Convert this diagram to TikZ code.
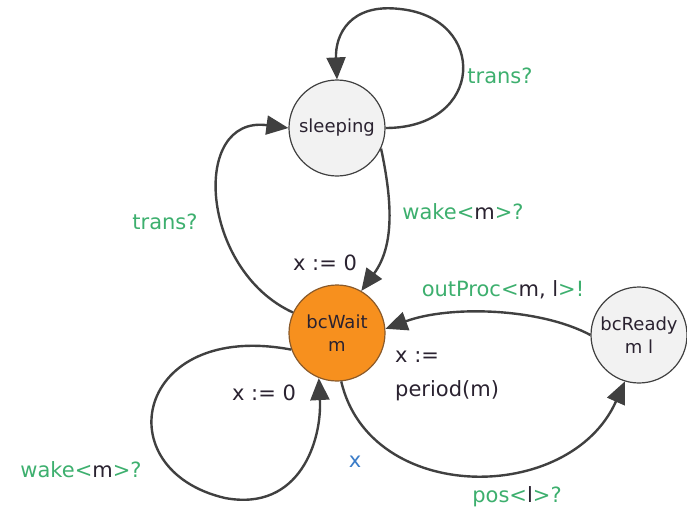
\documentclass[tikz,border=0pt]{standalone}
\usepackage{fontspec}
\setmainfont{DejaVu Sans}
\usetikzlibrary{arrows.meta}
\definecolor{edgecol}{HTML}{404040}
\definecolor{lblgreen}{HTML}{3DAF6E}
\definecolor{lbldark}{HTML}{2A2230}
\definecolor{lblblue}{HTML}{3A7CC8}
\definecolor{orangefill}{HTML}{F7901E}
\definecolor{orangeborder}{HTML}{8A5A2A}
\definecolor{greyfill}{HTML}{F2F2F2}
\tikzset{
  state/.style={circle, draw=edgecol, line width=1.2pt, minimum size=96pt, inner sep=0pt,
    align=center, font=\fontsize{18}{23}\selectfont, text=lbldark},
  idle/.style={state, fill=greyfill},
  active/.style={state, fill=orangefill, draw=orangeborder},
  conn/.style={draw=edgecol, line width=2.4pt, -{Triangle[length=22pt,width=19pt]}},
  glbl/.style={font=\fontsize{21}{26}\selectfont, text=lblgreen, inner sep=0pt},
  klbl/.style={font=\fontsize{21}{26}\selectfont, text=lbldark, inner sep=0pt},
  blbl/.style={font=\fontsize{21}{26}\selectfont, text=lblblue, inner sep=0pt}
}
\newcommand{\dk}[1]{\textcolor{lbldark}{#1}}
\begin{document}
\begin{tikzpicture}[x=1pt,y=-1pt]
\useasboundingbox (0,0) rectangle (687,520);
% states
\node[idle] (sl) at (337,128) {sleeping};
\node[active] (bw) at (337,333) {bcWait\\m};
\node[idle] (br) at (639,335) {bcReady\\m l};
% transitions
\draw[conn] (sl.0) .. controls (485,128) and (488,18) .. (400,9) .. controls (350,3) and (335,35) .. (sl.90);
\draw[conn] (sl.-25) .. controls (392,200) and (395,245) .. (bw.60);
\draw[conn] (bw.155) .. controls (200,270) and (190,115) .. (sl.180);
\draw[conn] (bw.200) .. controls (135,320) and (105,470) .. (225,498) .. controls (300,512) and (322,440) .. (bw.248);
\draw[conn] (br.180) .. controls (540,308) and (450,305) .. (bw.5);
\draw[conn] (bw.-85) .. controls (370,505) and (570,505) .. (br.253);
% labels
\node[glbl] (l1) at (500,76) {trans?};
\node[glbl] (l2) at (463,212) {wake<\dk{m}>?};
\node[klbl] (l3) at (325,263) {x := 0};
\node[glbl] (l4) at (165,222) {trans?};
\node[glbl] (l5) at (503,290) {outProc<\dk{m, l}>!};
\node[klbl, anchor=west] (l6) at (395,357) {x :=};
\node[klbl, anchor=west] (l7) at (395,391) {period(m)};
\node[klbl] (l8) at (264,393) {x := 0};
\node[glbl] (l9) at (81,470) {wake<\dk{m}>?};
\node[blbl] (l10) at (355,462) {x};
\node[glbl] (l11) at (517,497) {pos<\dk{l}>?};
\end{tikzpicture}
\end{document}
